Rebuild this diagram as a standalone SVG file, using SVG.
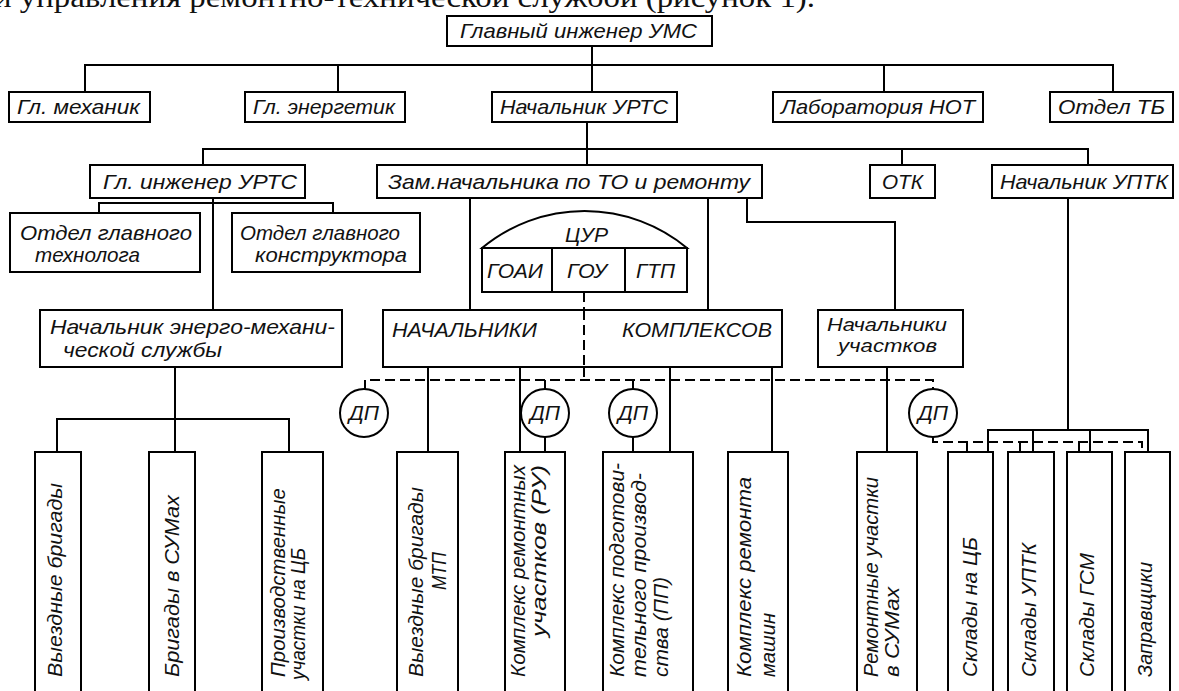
<svg xmlns="http://www.w3.org/2000/svg" width="1179" height="691" viewBox="0 0 1179 691">
  <style>
    .box { fill: #fff; stroke: #000; stroke-width: 2; }
    .open { fill: none; stroke: #000; stroke-width: 2; }
    .ln { fill: none; stroke: #000; stroke-width: 2; }
    .dash { stroke-dasharray: 10 5; }
    .t { font-family: "Liberation Sans", Arial, sans-serif; font-style: italic; font-size: 21px; fill: #111; }
    .ts { font-size: 19px; }
    .tc { text-anchor: middle; }
    .serif { font-family: "Liberation Serif", "Times New Roman", serif; font-size: 30px; fill: #111; }
  </style>
  <rect x="0" y="0" width="1179" height="691" fill="#fff"/>

  <!-- running text line above the chart -->
  <text class="serif" x="-6" y="7" textLength="821" lengthAdjust="spacingAndGlyphs">и управления ремонтно-технической службой (рисунок 1).</text>

  <!-- connectors -->
  <g id="connectors">
    <!-- level 1 -> level 2 -->
    <path class="ln" d="M592,46 V91"/>
    <path class="ln" d="M85,91 V65 H1113 V91"/>
    <path class="ln" d="M338,65 V91"/>
    <path class="ln" d="M884,65 V91"/>
    <!-- Начальник УРТС -> level 3 -->
    <path class="ln" d="M587,123 V165"/>
    <path class="ln" d="M203,165 V149 H1088 V165"/>
    <path class="ln" d="M902,149 V165"/>
    <!-- Гл. инженер УРТС -> departments -->
    <path class="ln" d="M99,213 V203 H333 V213"/>
    <path class="ln" d="M213,198 V310"/>
    <!-- Зам. начальника -> complexes / sections -->
    <path class="ln" d="M470,198 V310"/>
    <path class="ln" d="M708,198 V310"/>
    <path class="ln" d="M747,198 V222 H895 V310"/>
    <!-- energy-mechanical service -> crews -->
    <path class="ln" d="M175,367 V452"/>
    <path class="ln" d="M57,452 V419 H289 V452"/>
    <!-- complexes -> units -->
    <path class="ln" d="M428,367 V452"/>
    <path class="ln" d="M520,367 V452"/>
    <path class="ln" d="M670,367 V452"/>
    <path class="ln" d="M772,367 V452"/>
    <path class="ln" d="M887,367 V452"/>
    <!-- dispatch (dashed) links -->
    <path class="ln dash" d="M584,292 V380"/>
    <path class="ln dash" d="M365,390 V380 H933 V390"/>
    <path class="ln" d="M545,380 V390"/>
    <path class="ln" d="M633,380 V390"/>
    <path class="ln" d="M545,437 V452"/>
    <path class="ln" d="M633,437 V452"/>
    <path class="ln dash" d="M933,437 V442 H1142 V452"/>
    <path class="ln" d="M967,442 V452"/>
    <path class="ln" d="M1020,442 V452"/>
    <path class="ln" d="M1079,442 V452"/>
    <!-- Начальник УПТК -> warehouses -->
    <path class="ln" d="M1068,198 V430"/>
    <path class="ln" d="M988,452 V430 H1148 V452"/>
    <path class="ln" d="M1033,430 V452"/>
    <path class="ln" d="M1090,430 V452"/>
  </g>

  <!-- level 1 -->
  <g id="chief-engineer-ums">
    <rect class="box" x="447" y="16" width="265" height="30"/>
    <text class="t" x="460" y="38" textLength="237" lengthAdjust="spacingAndGlyphs">Главный инженер УМС</text>
  </g>

  <!-- level 2 -->
  <g id="chief-mechanic">
    <rect class="box" x="9" y="92" width="141" height="30"/>
    <text class="t" x="17" y="114" textLength="123" lengthAdjust="spacingAndGlyphs">Гл. механик</text>
  </g>
  <g id="chief-power-engineer">
    <rect class="box" x="245" y="92" width="160" height="30"/>
    <text class="t" x="253" y="114" textLength="142" lengthAdjust="spacingAndGlyphs">Гл. энергетик</text>
  </g>
  <g id="head-urts">
    <rect class="box" x="492" y="92" width="185" height="30"/>
    <text class="t" x="500" y="114" textLength="168" lengthAdjust="spacingAndGlyphs">Начальник УРТС</text>
  </g>
  <g id="lab-not">
    <rect class="box" x="773" y="92" width="210" height="30"/>
    <text class="t" x="781" y="114" textLength="194" lengthAdjust="spacingAndGlyphs">Лаборатория НОТ</text>
  </g>
  <g id="safety-dept">
    <rect class="box" x="1050" y="92" width="123" height="30"/>
    <text class="t" x="1058" y="114" textLength="107" lengthAdjust="spacingAndGlyphs">Отдел ТБ</text>
  </g>

  <!-- level 3 -->
  <g id="chief-engineer-urts">
    <rect class="box" x="90" y="165" width="215" height="33"/>
    <text class="t" x="103" y="189" textLength="194" lengthAdjust="spacingAndGlyphs">Гл. инженер УРТС</text>
  </g>
  <g id="deputy-head">
    <rect class="box" x="377" y="165" width="385" height="33"/>
    <text class="t" x="388" y="189" textLength="362" lengthAdjust="spacingAndGlyphs">Зам.начальника по ТО и ремонту</text>
  </g>
  <g id="otk">
    <rect class="box" x="870" y="165" width="65" height="33"/>
    <text class="t" x="882" y="189" textLength="41" lengthAdjust="spacingAndGlyphs">ОТК</text>
  </g>
  <g id="head-uptk">
    <rect class="box" x="992" y="165" width="181" height="33"/>
    <text class="t" x="1000" y="189" textLength="168" lengthAdjust="spacingAndGlyphs">Начальник УПТК</text>
  </g>

  <!-- departments under the chief engineer -->
  <g id="chief-technologist-dept">
    <rect class="box" x="10" y="213" width="190" height="59"/>
    <text class="t" x="20" y="240" textLength="172" lengthAdjust="spacingAndGlyphs">Отдел главного</text>
    <text class="t" x="35" y="262" textLength="105" lengthAdjust="spacingAndGlyphs">технолога</text>
  </g>
  <g id="chief-designer-dept">
    <rect class="box" x="232" y="213" width="188" height="59"/>
    <text class="t" x="240" y="240" textLength="160" lengthAdjust="spacingAndGlyphs">Отдел главного</text>
    <text class="t" x="255" y="262" textLength="152" lengthAdjust="spacingAndGlyphs">конструктора</text>
  </g>
  <g id="energy-mech-service">
    <rect class="box" x="40" y="310" width="302" height="57"/>
    <text class="t" x="50" y="334" textLength="285" lengthAdjust="spacingAndGlyphs">Начальник энерго-механи-</text>
    <text class="t" x="63" y="357" textLength="159" lengthAdjust="spacingAndGlyphs">ческой службы</text>
  </g>

  <!-- central repair control -->
  <g id="tsur">
    <path class="box" d="M482,248 A160.5,160.5 0 0 1 687,248 Z"/>
    <rect class="box" x="482" y="248" width="205" height="44"/>
    <path class="ln" d="M552,248 V292 M625,248 V292"/>
    <text class="t" x="565" y="242" textLength="43" lengthAdjust="spacingAndGlyphs">ЦУР</text>
    <text class="t" x="487" y="278" textLength="56" lengthAdjust="spacingAndGlyphs">ГОАИ</text>
    <text class="t" x="567" y="278" textLength="40" lengthAdjust="spacingAndGlyphs">ГОУ</text>
    <text class="t" x="636" y="278" textLength="39" lengthAdjust="spacingAndGlyphs">ГТП</text>
  </g>

  <g id="complex-heads">
    <rect class="box" x="383" y="310" width="399" height="57"/>
    <path class="ln dash" d="M584,310 V367"/>
    <text class="t" x="392" y="337" textLength="145" lengthAdjust="spacingAndGlyphs">НАЧАЛЬНИКИ</text>
    <text class="t" x="622" y="337" textLength="150" lengthAdjust="spacingAndGlyphs">КОМПЛЕКСОВ</text>
  </g>
  <g id="section-heads">
    <rect class="box" x="818" y="310" width="145" height="57"/>
    <text class="t ts" x="827" y="331" textLength="120" lengthAdjust="spacingAndGlyphs">Начальники</text>
    <text class="t ts" x="838" y="352" textLength="99" lengthAdjust="spacingAndGlyphs">участков</text>
  </g>

  <!-- dispatchers -->
  <g id="dp-1">
    <circle class="box" cx="364" cy="413" r="24"/>
    <text class="t tc" x="364" y="420">ДП</text>
  </g>
  <g id="dp-2">
    <circle class="box" cx="545" cy="413" r="24"/>
    <text class="t tc" x="545" y="420">ДП</text>
  </g>
  <g id="dp-3">
    <circle class="box" cx="633" cy="413" r="24"/>
    <text class="t tc" x="633" y="420">ДП</text>
  </g>
  <g id="dp-4">
    <circle class="box" cx="933" cy="413" r="24"/>
    <text class="t tc" x="933" y="420">ДП</text>
  </g>

  <!-- bottom units (vertical labels) -->
  <g id="field-crews">
    <path class="open" d="M35,700 V452 H81 V700"/>
    <text class="t" transform="translate(62,677) rotate(-90)" textLength="194" lengthAdjust="spacingAndGlyphs">Выездные бригады</text>
  </g>
  <g id="crews-sum">
    <path class="open" d="M149,700 V452 H195 V700"/>
    <text class="t" transform="translate(179,677) rotate(-90)" textLength="182" lengthAdjust="spacingAndGlyphs">Бригады в СУМах</text>
  </g>
  <g id="production-sections-cb">
    <path class="open" d="M262,700 V452 H323 V700"/>
    <text class="t" transform="translate(285,677) rotate(-90)" textLength="189" lengthAdjust="spacingAndGlyphs">Производственные</text>
    <text class="t" transform="translate(305,680) rotate(-90)" textLength="132" lengthAdjust="spacingAndGlyphs">участки на ЦБ</text>
  </g>
  <g id="field-crews-mtp">
    <path class="open" d="M397,700 V452 H458 V700"/>
    <text class="t" transform="translate(423,677) rotate(-90)" textLength="190" lengthAdjust="spacingAndGlyphs">Выездные бригады</text>
    <text class="t" transform="translate(446,590) rotate(-90)" textLength="38" lengthAdjust="spacingAndGlyphs">МТП</text>
  </g>
  <g id="repair-sections-complex">
    <path class="open" d="M505,700 V452 H565 V700"/>
    <text class="t" transform="translate(525,677) rotate(-90)" textLength="212" lengthAdjust="spacingAndGlyphs">Комплекс ремонтных</text>
    <text class="t" transform="translate(546,637) rotate(-90)" textLength="172" lengthAdjust="spacingAndGlyphs">участков (РУ)</text>
  </g>
  <g id="preparatory-complex">
    <path class="open" d="M603,700 V452 H693 V700"/>
    <text class="t" transform="translate(624,677) rotate(-90)" textLength="214" lengthAdjust="spacingAndGlyphs">Комплекс подготови-</text>
    <text class="t" transform="translate(646,677) rotate(-90)" textLength="204" lengthAdjust="spacingAndGlyphs">тельного производ-</text>
    <text class="t" transform="translate(668,677) rotate(-90)" textLength="100" lengthAdjust="spacingAndGlyphs">ства (ПП)</text>
  </g>
  <g id="machine-repair-complex">
    <path class="open" d="M728,700 V452 H788 V700"/>
    <text class="t" transform="translate(751,677) rotate(-90)" textLength="200" lengthAdjust="spacingAndGlyphs">Комплекс ремонта</text>
    <text class="t" transform="translate(775,677) rotate(-90)" textLength="64" lengthAdjust="spacingAndGlyphs">машин</text>
  </g>
  <g id="repair-sections-sum">
    <path class="open" d="M857,700 V452 H917 V700"/>
    <text class="t" transform="translate(878,677) rotate(-90)" textLength="200" lengthAdjust="spacingAndGlyphs">Ремонтные участки</text>
    <text class="t" transform="translate(899,677) rotate(-90)" textLength="90" lengthAdjust="spacingAndGlyphs">в СУМах</text>
  </g>
  <g id="warehouses-cb">
    <path class="open" d="M948,700 V452 H993 V700"/>
    <text class="t" transform="translate(977,677) rotate(-90)" textLength="140" lengthAdjust="spacingAndGlyphs">Склады на ЦБ</text>
  </g>
  <g id="warehouses-uptk">
    <path class="open" d="M1008,700 V452 H1054 V700"/>
    <text class="t" transform="translate(1036,677) rotate(-90)" textLength="134" lengthAdjust="spacingAndGlyphs">Склады УПТК</text>
  </g>
  <g id="warehouses-gsm">
    <path class="open" d="M1067,700 V452 H1112 V700"/>
    <text class="t" transform="translate(1094,677) rotate(-90)" textLength="124" lengthAdjust="spacingAndGlyphs">Склады ГСМ</text>
  </g>
  <g id="fuel-trucks">
    <path class="open" d="M1125,700 V452 H1170 V700"/>
    <text class="t" transform="translate(1152,677) rotate(-90)" textLength="115" lengthAdjust="spacingAndGlyphs">Заправщики</text>
  </g>
</svg>
